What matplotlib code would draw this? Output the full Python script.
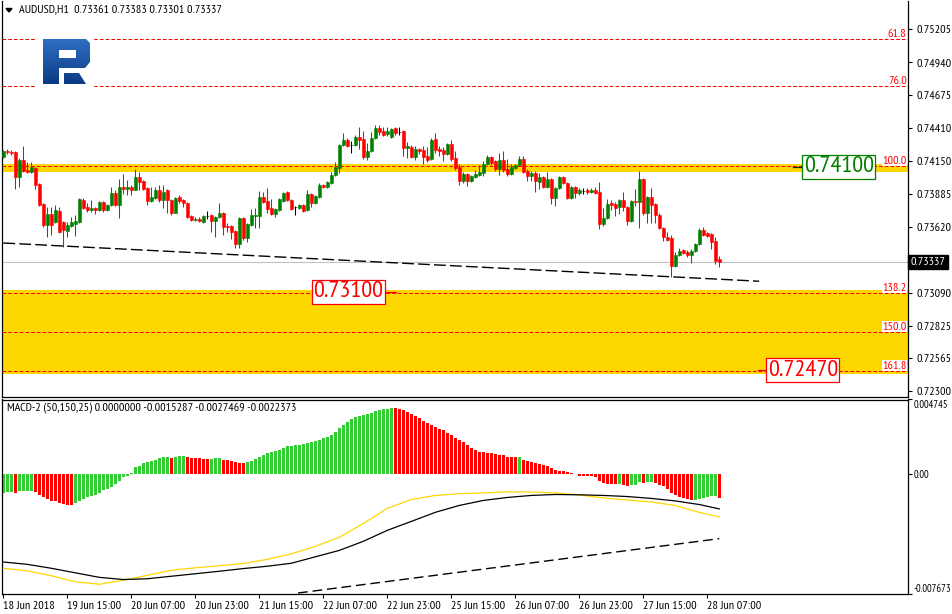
import numpy as np
import matplotlib
matplotlib.use("Agg")
import matplotlib.pyplot as plt
from matplotlib.path import Path
from matplotlib.patches import PathPatch, Polygon, Rectangle
from matplotlib.colors import LinearSegmentedColormap
from matplotlib.transforms import blended_transform_factory

# ---- AUDUSD H1 candles (18 Jun 23:00 .. 28 Jun 10:00) ----
open_ = [0.74180, 0.74228, 0.74220, 0.74220, 0.74020, 0.74156, 0.74076, 0.74060, 0.74092, 0.73964,
         0.73803, 0.73635, 0.73723, 0.73659, 0.73747, 0.73659, 0.73586, 0.73627, 0.73643, 0.73659,
         0.73835, 0.73779, 0.73755, 0.73771, 0.73755, 0.73819, 0.73755, 0.73795, 0.73891, 0.73795,
         0.73939, 0.73923, 0.73939, 0.73915, 0.74020, 0.73988, 0.73931, 0.73827, 0.73851, 0.73915,
         0.73835, 0.73915, 0.73835, 0.73731, 0.73859, 0.73835, 0.73811, 0.73707, 0.73675, 0.73683,
         0.73659, 0.73707, 0.73715, 0.73667, 0.73699, 0.73731, 0.73627, 0.73627, 0.73586, 0.73482,
         0.73691, 0.73530, 0.73635, 0.73703, 0.73707, 0.73859, 0.73827, 0.73771, 0.73723, 0.73755,
         0.73827, 0.73899, 0.73835, 0.73779, 0.73771, 0.73795, 0.73755, 0.73883, 0.73811, 0.73859,
         0.73955, 0.73939, 0.73972, 0.74036, 0.74092, 0.74276, 0.74316, 0.74276, 0.74276, 0.74341,
         0.74325, 0.74180, 0.74228, 0.74333, 0.74413, 0.74389, 0.74365, 0.74341, 0.74413, 0.74381,
         0.74389, 0.74252, 0.74260, 0.74180, 0.74244, 0.74236, 0.74188, 0.74164, 0.74325, 0.74244,
         0.74236, 0.74204, 0.74284, 0.74172, 0.74100, 0.73988, 0.74044, 0.73988, 0.74020, 0.74036,
         0.74052, 0.74124, 0.74180, 0.74148, 0.74084, 0.74156, 0.74084, 0.74044, 0.74092, 0.74116,
         0.74164, 0.74068, 0.74028, 0.74052, 0.73980, 0.74020, 0.73939, 0.74004, 0.73851, 0.73931,
         0.74020, 0.73972, 0.73851, 0.73939, 0.73891, 0.73907, 0.73915, 0.73899, 0.73915, 0.73899,
         0.73643, 0.73691, 0.73811, 0.73803, 0.73779, 0.73835, 0.73779, 0.73667, 0.73827, 0.73819,
         0.74004, 0.73731, 0.73859, 0.73803, 0.73715, 0.73611, 0.73538, 0.73530, 0.73305, 0.73394,
         0.73434, 0.73418, 0.73394, 0.73426, 0.73482, 0.73595, 0.73570, 0.73562, 0.73506, 0.73361]
high = [0.74236, 0.74244, 0.74236, 0.74228, 0.74172, 0.74268, 0.74140, 0.74140, 0.74100, 0.73972,
        0.73811, 0.73779, 0.73779, 0.73795, 0.73779, 0.73667, 0.73659, 0.73699, 0.73715, 0.73851,
        0.73851, 0.73811, 0.73835, 0.73779, 0.73827, 0.73827, 0.73803, 0.73939, 0.73915, 0.74004,
        0.74044, 0.73996, 0.73955, 0.74084, 0.74060, 0.73996, 0.73939, 0.73939, 0.73939, 0.73955,
        0.73955, 0.73923, 0.73843, 0.73859, 0.73875, 0.73843, 0.73819, 0.73715, 0.73699, 0.73699,
        0.73715, 0.73747, 0.73723, 0.73707, 0.73811, 0.73739, 0.73651, 0.73635, 0.73595, 0.73699,
        0.73699, 0.73651, 0.73763, 0.73771, 0.73907, 0.73899, 0.73931, 0.73843, 0.73771, 0.73851,
        0.73899, 0.73907, 0.73843, 0.73787, 0.73803, 0.73803, 0.73915, 0.73891, 0.73875, 0.73972,
        0.73964, 0.73988, 0.74060, 0.74140, 0.74284, 0.74373, 0.74333, 0.74308, 0.74357, 0.74421,
        0.74389, 0.74292, 0.74381, 0.74437, 0.74437, 0.74421, 0.74421, 0.74413, 0.74421, 0.74421,
        0.74397, 0.74300, 0.74276, 0.74268, 0.74252, 0.74268, 0.74260, 0.74333, 0.74373, 0.74268,
        0.74260, 0.74292, 0.74316, 0.74228, 0.74124, 0.74060, 0.74052, 0.74036, 0.74076, 0.74116,
        0.74148, 0.74196, 0.74188, 0.74156, 0.74212, 0.74228, 0.74164, 0.74124, 0.74124, 0.74188,
        0.74188, 0.74084, 0.74068, 0.74068, 0.74052, 0.74028, 0.74060, 0.74012, 0.73939, 0.74028,
        0.74028, 0.73980, 0.73947, 0.73947, 0.73931, 0.73931, 0.73931, 0.73931, 0.73939, 0.73980,
        0.73771, 0.73843, 0.73835, 0.73819, 0.73843, 0.73899, 0.73787, 0.73835, 0.73923, 0.74068,
        0.74012, 0.73867, 0.73931, 0.73811, 0.73731, 0.73619, 0.73578, 0.73554, 0.73418, 0.73450,
        0.73442, 0.73434, 0.73442, 0.73490, 0.73611, 0.73619, 0.73578, 0.73570, 0.73538, 0.73383]
low = [0.74172, 0.74204, 0.74196, 0.73923, 0.73939, 0.74060, 0.74052, 0.74052, 0.73923, 0.73787,
       0.73619, 0.73538, 0.73554, 0.73651, 0.73570, 0.73458, 0.73538, 0.73619, 0.73546, 0.73651,
       0.73763, 0.73739, 0.73739, 0.73723, 0.73747, 0.73739, 0.73747, 0.73787, 0.73787, 0.73691,
       0.73883, 0.73875, 0.73875, 0.73915, 0.73915, 0.73915, 0.73795, 0.73819, 0.73843, 0.73819,
       0.73771, 0.73731, 0.73715, 0.73731, 0.73811, 0.73779, 0.73691, 0.73667, 0.73667, 0.73659,
       0.73651, 0.73683, 0.73578, 0.73538, 0.73691, 0.73554, 0.73578, 0.73522, 0.73450, 0.73450,
       0.73514, 0.73498, 0.73627, 0.73611, 0.73611, 0.73811, 0.73731, 0.73715, 0.73699, 0.73747,
       0.73819, 0.73827, 0.73755, 0.73715, 0.73763, 0.73739, 0.73747, 0.73779, 0.73803, 0.73851,
       0.73931, 0.73931, 0.73964, 0.74028, 0.74052, 0.74268, 0.74260, 0.74212, 0.74268, 0.74244,
       0.74164, 0.74156, 0.74220, 0.74325, 0.74357, 0.74349, 0.74349, 0.74333, 0.74357, 0.74357,
       0.74188, 0.74172, 0.74172, 0.74156, 0.74204, 0.74124, 0.74140, 0.74156, 0.74212, 0.74188,
       0.74148, 0.74196, 0.74148, 0.74076, 0.73955, 0.73972, 0.73947, 0.73980, 0.74012, 0.74028,
       0.74028, 0.74116, 0.74116, 0.74068, 0.74036, 0.74060, 0.74028, 0.74036, 0.74084, 0.74108,
       0.74052, 0.73988, 0.73988, 0.73899, 0.73923, 0.73931, 0.73931, 0.73803, 0.73787, 0.73923,
       0.73964, 0.73843, 0.73843, 0.73851, 0.73875, 0.73883, 0.73883, 0.73891, 0.73883, 0.73603,
       0.73627, 0.73683, 0.73755, 0.73707, 0.73723, 0.73747, 0.73635, 0.73659, 0.73787, 0.73611,
       0.73715, 0.73651, 0.73651, 0.73651, 0.73603, 0.73506, 0.73506, 0.73217, 0.73297, 0.73386,
       0.73402, 0.73378, 0.73329, 0.73418, 0.73474, 0.73546, 0.73538, 0.73442, 0.73321, 0.73301]
close = [0.74228, 0.74220, 0.74212, 0.74020, 0.74156, 0.74068, 0.74060, 0.74100, 0.73955, 0.73795,
         0.73635, 0.73723, 0.73635, 0.73755, 0.73578, 0.73595, 0.73635, 0.73659, 0.73667, 0.73843,
         0.73771, 0.73755, 0.73771, 0.73755, 0.73819, 0.73755, 0.73795, 0.73891, 0.73795, 0.73939,
         0.73923, 0.73939, 0.73915, 0.74020, 0.73980, 0.73923, 0.73827, 0.73859, 0.73915, 0.73835,
         0.73899, 0.73835, 0.73731, 0.73851, 0.73827, 0.73811, 0.73699, 0.73675, 0.73683, 0.73667,
         0.73707, 0.73707, 0.73667, 0.73699, 0.73731, 0.73619, 0.73619, 0.73578, 0.73482, 0.73691,
         0.73530, 0.73643, 0.73715, 0.73711, 0.73859, 0.73819, 0.73763, 0.73723, 0.73763, 0.73843,
         0.73891, 0.73835, 0.73763, 0.73779, 0.73795, 0.73747, 0.73883, 0.73811, 0.73867, 0.73955,
         0.73939, 0.73980, 0.74036, 0.74100, 0.74276, 0.74316, 0.74268, 0.74276, 0.74341, 0.74316,
         0.74180, 0.74228, 0.74333, 0.74413, 0.74381, 0.74357, 0.74389, 0.74405, 0.74373, 0.74381,
         0.74252, 0.74268, 0.74180, 0.74244, 0.74228, 0.74180, 0.74156, 0.74316, 0.74236, 0.74228,
         0.74204, 0.74284, 0.74164, 0.74092, 0.73988, 0.74044, 0.73988, 0.74028, 0.74044, 0.74060,
         0.74124, 0.74180, 0.74132, 0.74084, 0.74156, 0.74076, 0.74044, 0.74100, 0.74116, 0.74164,
         0.74060, 0.74028, 0.74052, 0.73988, 0.74020, 0.73939, 0.74004, 0.73851, 0.73931, 0.74020,
         0.73972, 0.73851, 0.73939, 0.73891, 0.73915, 0.73907, 0.73899, 0.73915, 0.73891, 0.73643,
         0.73691, 0.73803, 0.73795, 0.73771, 0.73835, 0.73779, 0.73667, 0.73827, 0.73819, 0.74004,
         0.73731, 0.73859, 0.73795, 0.73715, 0.73611, 0.73538, 0.73514, 0.73305, 0.73394, 0.73426,
         0.73410, 0.73394, 0.73426, 0.73482, 0.73595, 0.73554, 0.73546, 0.73498, 0.73346, 0.73337]

# ---- MACD-2 (50,150,25) ----
hist = [-0.00121, -0.00117, -0.00115, -0.00121, -0.00112, -0.00111, -0.00110, -0.00109, -0.00117, -0.00134,
        -0.00148, -0.00159, -0.00172, -0.00176, -0.00184, -0.00193, -0.00197, -0.00199, -0.00184, -0.00176,
        -0.00159, -0.00146, -0.00140, -0.00136, -0.00121, -0.00106, -0.00095, -0.00081, -0.00068, -0.00049,
        -0.00023, -0.00011, 0.00006, 0.00042, 0.00053, 0.00068, 0.00074, 0.00081, 0.00091, 0.00102,
        0.00106, 0.00108, 0.00104, 0.00110, 0.00112, 0.00115, 0.00108, 0.00102, 0.00100, 0.00098,
        0.00097, 0.00096, 0.00097, 0.00098, 0.00100, 0.00091, 0.00089, 0.00083, 0.00076, 0.00072,
        0.00070, 0.00078, 0.00085, 0.00093, 0.00108, 0.00123, 0.00134, 0.00138, 0.00144, 0.00155,
        0.00167, 0.00178, 0.00180, 0.00182, 0.00183, 0.00189, 0.00199, 0.00204, 0.00208, 0.00218,
        0.00227, 0.00235, 0.00248, 0.00267, 0.00295, 0.00312, 0.00329, 0.00348, 0.00363, 0.00369,
        0.00377, 0.00384, 0.00390, 0.00399, 0.00405, 0.00411, 0.00416, 0.00422, 0.00420, 0.00413,
        0.00405, 0.00394, 0.00384, 0.00371, 0.00354, 0.00339, 0.00324, 0.00312, 0.00299, 0.00288,
        0.00278, 0.00263, 0.00250, 0.00229, 0.00218, 0.00201, 0.00184, 0.00165, 0.00153, 0.00142,
        0.00140, 0.00136, 0.00134, 0.00129, 0.00123, 0.00117, 0.00110, 0.00108, 0.00106, 0.00107,
        0.00091, 0.00083, 0.00076, 0.00070, 0.00064, 0.00055, 0.00047, 0.00036, 0.00023, 0.00019,
        0.00015, 0.00011, 0.00004, -0.00002, -0.00011, -0.00015, -0.00016, -0.00017, -0.00019, -0.00049,
        -0.00061, -0.00064, -0.00066, -0.00068, -0.00064, -0.00072, -0.00078, -0.00074, -0.00070, -0.00055,
        -0.00059, -0.00053, -0.00052, -0.00057, -0.00072, -0.00078, -0.00095, -0.00121, -0.00138, -0.00148,
        -0.00155, -0.00159, -0.00166, -0.00164, -0.00158, -0.00153, -0.00148, -0.00144, -0.00142, -0.00153]
line_bars = [0, 6, 12, 18, 24, 30, 36, 42, 48, 54, 60, 66, 72, 78, 84, 90,
             96, 102, 108, 114, 120, 126, 132, 138, 144, 150, 156, 162, 168, 174, 179]
macd_black = [-0.00563, -0.00578, -0.00603, -0.00632, -0.00661, -0.00675, -0.00670, -0.00654,
              -0.00638, -0.00622, -0.00605, -0.00590, -0.00571, -0.00530, -0.00489, -0.00431,
              -0.00361, -0.00304, -0.00246, -0.00202, -0.00170, -0.00151, -0.00138, -0.00132,
              -0.00134, -0.00138, -0.00145, -0.00157, -0.00173, -0.00196, -0.00224]
macd_yellow = [-0.00603, -0.00619, -0.00651, -0.00689, -0.00705, -0.00680, -0.00648, -0.00616,
               -0.00600, -0.00587, -0.00573, -0.00546, -0.00511, -0.00463, -0.00406, -0.00317,
               -0.00221, -0.00164, -0.00138, -0.00127, -0.00122, -0.00115, -0.00116, -0.00122,
               -0.00135, -0.00154, -0.00167, -0.00180, -0.00202, -0.00246, -0.00275]

# ---- objects drawn on the chart ----
fib_names = ['61.8', '76.0', '100.0', '138.2', '150.0', '161.8']
fib_prices = [0.75127, 0.74750, 0.74108, 0.73089, 0.72776, 0.72463]
zones = [(0.74060, 0.74124), (0.72439, 0.73113)]
target_prices = [0.74100, 0.73100, 0.72470]
target_bars = [208.9, 86.3, 199.9]
trend_bars = [0, 189]
trend_prices = [0.73490, 0.73183]
macd_trend_bars = [73.7, 179]
macd_trend_vals = [-0.00761, -0.00414]
last_price = 0.73337
price_ticks = [0.75205, 0.74940, 0.74675, 0.74410, 0.74150, 0.73885, 0.73620,
               0.73090, 0.72825, 0.72565, 0.72300]
macd_ticks = [0.004745, 0.0, -0.007673]
macd_tick_labels = ['0.004745', '0.00', '-0.007673']
date_bars = [0, 16, 32, 48, 64, 80, 96, 112, 128, 144, 160, 176]
date_labels = ['18 Jun 2018', '19 Jun 15:00', '20 Jun 07:00', '20 Jun 23:00', '21 Jun 15:00',
               '22 Jun 07:00', '22 Jun 23:00', '25 Jun 15:00', '26 Jun 07:00', '26 Jun 23:00',
               '27 Jun 15:00', '28 Jun 07:00']

GREEN = '#008000'
RED = '#FF0000'
LIME = '#32CD32'
GOLD = '#FFD700'
SMALL = 8.7
BIG = 17.6

plt.rcParams['font.family'] = ['PT Sans Narrow', 'Liberation Sans']

W, H = 953, 614
fig = plt.figure(figsize=(W / 100, H / 100), dpi=100)


def box(x0, y0, x1, y1):
    # pixel box (top-left origin) -> figure fraction rect
    return [x0 / W, 1 - y1 / H, (x1 - x0) / W, (y1 - y0) / H]


ax = fig.add_axes(box(2.5, 1, 908, 397))
ax2 = fig.add_axes(box(2.5, 399.5, 908, 594))

# ---------- price window ----------
o = np.array(open_)
c = np.array(close)
x = np.arange(len(c))
col = np.where(c > o, GREEN, np.where(c < o, RED, 'black'))
ax.vlines(x, low, high, colors=col, lw=0.75, zorder=5)
ax.bar(x, np.abs(c - o), bottom=np.minimum(o, c), width=0.75, color=col,
       edgecolor=col, lw=0.4, zorder=6)

for lo, hi in zones:
    ax.axhspan(lo, hi, color=GOLD, lw=0, zorder=1)

ax.axhline(last_price, color='#C0C0C0', lw=0.75, zorder=2)

trn = blended_transform_factory(ax.transAxes, ax.transData)
for name, p in zip(fib_names, fib_prices):
    ax.axhline(p, color=RED, lw=0.75, dashes=(3.5, 2), zorder=3)
    ax.text(0.9985, p + 0.00003, name, transform=trn, ha='right', va='bottom',
            color=RED, fontsize=SMALL, zorder=7,
            bbox=dict(fc='white', ec='none', pad=0.3))

ax.plot(trend_bars, trend_prices, color='black', lw=1.0, dashes=(8.5, 3), zorder=4)

# target price labels
tcols = [GREEN, RED, RED]
for p, b, tc in zip(target_prices, target_bars, tcols):
    ax.text(b, p, '%.5f' % p, ha='center', va='center', color=tc,
            fontsize=BIG, zorder=9,
            bbox=dict(boxstyle='square,pad=0.06', fc='white', ec=tc, lw=0.9))
ax.plot([197.4, 199.6], [target_prices[0]] * 2, color='#103010', lw=0.9, zorder=8)
ax.plot([95.7, 98.2], [target_prices[1]] * 2, color=RED, lw=0.9, zorder=8)
ax.plot([188.7, 190.7], [target_prices[2]] * 2, color=RED, lw=0.9, zorder=8)

ax.set_xlim(-0.2, 226.2)
ax.set_ylim(0.72254, 0.75432)
ax.set_xticks([])
ax.yaxis.tick_right()
ax.set_yticks(price_ticks)
ax.set_yticklabels(['%.5f' % v for v in price_ticks])
ax.tick_params(axis='y', direction='out', length=3, width=0.8, pad=3,
               labelsize=SMALL, colors='black')
ax.spines['top'].set_visible(False)
for s in ('left', 'right', 'bottom'):
    ax.spines[s].set_linewidth(0.9)

ax.text(1.0025, last_price, '%.5f' % last_price, transform=trn, ha='left',
        va='center', color='white', fontsize=SMALL, zorder=10, clip_on=False,
        bbox=dict(boxstyle='square,pad=0.2', fc='black', ec='black'))

# ---------- MACD window ----------
h = np.array(hist)
hcol = [LIME] + [LIME if h[i] > h[i - 1] else RED for i in range(1, len(h))]
ax2.bar(x, h, width=0.68, color=hcol, lw=0, zorder=2)
ax2.plot(line_bars, macd_yellow, color=GOLD, lw=0.9, zorder=3)
ax2.plot(line_bars, macd_black, color='black', lw=0.9, zorder=3)
ax2.plot(macd_trend_bars, macd_trend_vals, color='black', lw=1.0, dashes=(7, 3.5), zorder=3)

ax2.set_xlim(-0.2, 226.2)
ax2.set_ylim(-0.007673, 0.004745)
ax2.yaxis.tick_right()
ax2.set_yticks(macd_ticks)
ax2.set_yticklabels(macd_tick_labels)
ylabs = ax2.get_yticklabels()
ylabs[0].set_va('top')
ylabs[2].set_va('bottom')
ax2.tick_params(axis='y', direction='out', length=3, width=0.8, pad=1,
                labelsize=7.6)
ax2.set_xticks(date_bars)
ax2.set_xticklabels(date_labels)
for t in ax2.get_xticklabels():
    t.set_ha('left')
ax2.tick_params(axis='x', direction='out', length=3, width=0.8, pad=2,
                labelsize=SMALL)
for s in ax2.spines.values():
    s.set_linewidth(0.9)

# ---------- overlay: window titles and broker logo ----------
ov = fig.add_axes([0, 0, 1, 1], zorder=20)
ov.set_axis_off()
ov.add_patch(Polygon([[6, 8.5], [12, 8.5], [9, 12]], closed=True, color='black'))
ov.text(19, 10.5, 'AUDUSD,H1  0.73361 0.73383 0.73301 0.73337', va='center',
        ha='left', fontsize=SMALL)
ov.text(7, 407.5, 'MACD-2 (50,150,25) 0.0000000 -0.0015287 -0.0027469 -0.0022373',
        va='center', ha='left', fontsize=SMALL)

ov.add_patch(Rectangle((36, 33), 57, 56, color='white', zorder=1))
verts = [(43, 39), (86, 39), (90, 43), (90, 62), (85, 68), (59, 68), (59, 84), (43, 84), (43, 39),
         (59, 50), (59, 58), (76, 58), (76, 50), (59, 50),
         (64, 73), (79, 73), (86, 84), (64, 84), (64, 73)]
codes = ([Path.MOVETO] + [Path.LINETO] * 7 + [Path.CLOSEPOLY]) + \
        ([Path.MOVETO] + [Path.LINETO] * 3 + [Path.CLOSEPOLY]) * 2
logo = PathPatch(Path(verts, codes), fc='none', ec='none')
ov.add_patch(logo)
cmap = LinearSegmentedColormap.from_list('logo', ['#2f6fc0', '#0a3b85'])
grad = np.linspace(0, 1, 64).reshape(-1, 1)
im = ov.imshow(grad, cmap=cmap, extent=(43, 90, 84, 39), aspect='auto', zorder=2)
im.set_clip_path(logo)
ov.set_xlim(0, W)
ov.set_ylim(H, 0)

fig.savefig('out.png', dpi=100)
